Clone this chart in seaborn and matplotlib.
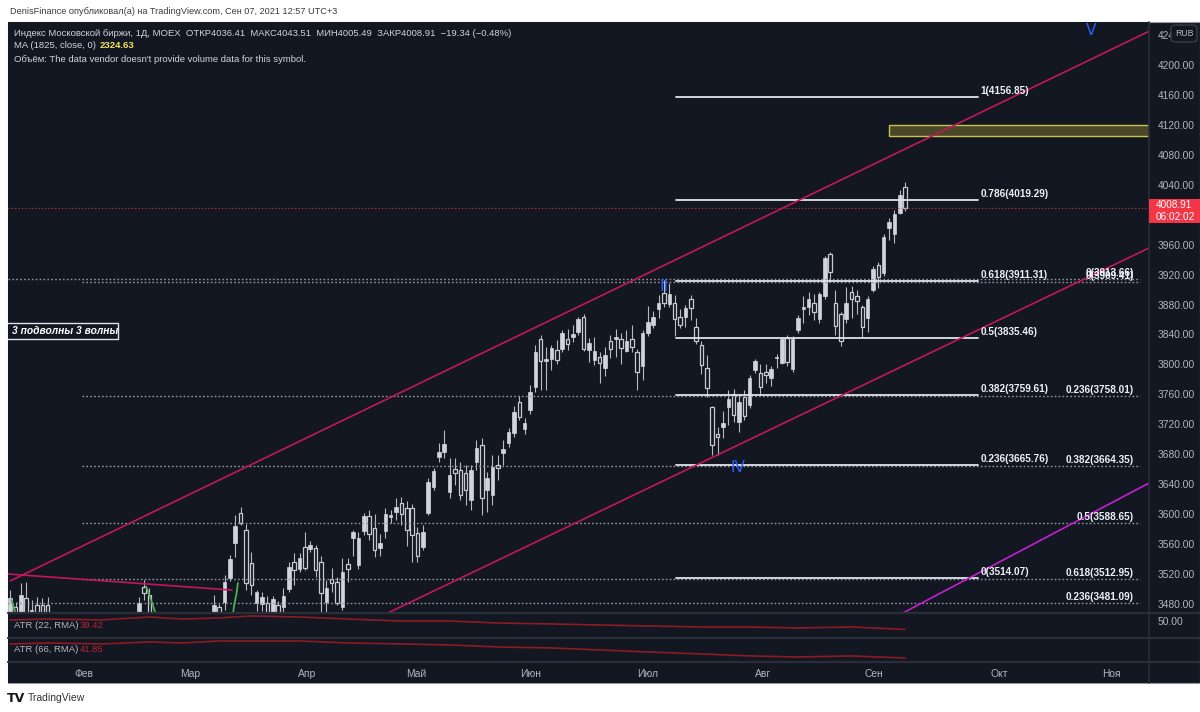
import numpy as np
import pandas as pd
import matplotlib
matplotlib.use("Agg")
import matplotlib.pyplot as plt
import seaborn as sns
from matplotlib.patches import Rectangle, FancyBboxPatch
from matplotlib.lines import Line2D

# ---------------- data ----------------
OPEN = [3469, 3476, 3458, 3488, 3462, 3479, 3479, 3479, 3458, 3440, 3425, 3410, 3420, 3438, 3420, 3390,
        3372, 3395, 3418, 3430, 3445, 3432, 3450, 3442, 3455, 3503, 3492, 3462, 3448, 3430, 3440, 3425,
        3435, 3445, 3438, 3448, 3442, 3452, 3462, 3476, 3483, 3515, 3562, 3602, 3579, 3535, 3481, 3480,
        3481, 3468, 3479, 3476, 3500, 3536, 3527, 3556, 3554, 3555, 3536, 3483, 3513, 3509, 3476, 3533,
        3568, 3532, 3578, 3598, 3582, 3555, 3578, 3596, 3603, 3615, 3608, 3608, 3575, 3556, 3602, 3636,
        3676, 3683, 3630, 3660, 3659, 3655, 3619, 3670, 3692, 3632, 3626, 3666, 3682, 3695, 3708, 3750,
        3714, 3739, 3770, 3834, 3805, 3807, 3819, 3821, 3834, 3837, 3843, 3863, 3819, 3806, 3810, 3795,
        3831, 3834, 3834, 3818, 3834, 3817, 3798, 3842, 3853, 3874, 3895, 3881, 3882, 3863, 3863, 3887,
        3850, 3826, 3795, 3743, 3707, 3716, 3743, 3761, 3723, 3757, 3746, 3793, 3789, 3790, 3782, 3809,
        3802, 3835, 3794, 3846, 3874, 3877, 3882, 3861, 3891, 3948, 3882, 3867, 3861, 3897, 3891, 3877,
        3862, 3899, 3933, 3922, 3982, 3974, 4002, 4036.41]
HIGH = [3499, 3482, 3508, 3509, 3485, 3489, 3488, 3489, 3462, 3452, 3440, 3430, 3445, 3450, 3432, 3410,
        3400, 3425, 3440, 3450, 3458, 3455, 3460, 3458, 3489, 3512, 3501, 3466, 3455, 3445, 3450, 3440,
        3448, 3458, 3452, 3460, 3455, 3462, 3492, 3480, 3519, 3545, 3599, 3610, 3587, 3550, 3499, 3496,
        3490, 3491, 3484, 3501, 3536, 3548, 3548, 3576, 3564, 3559, 3544, 3512, 3528, 3516, 3541, 3541,
        3579, 3576, 3602, 3606, 3600, 3574, 3608, 3606, 3622, 3623, 3618, 3614, 3583, 3586, 3648, 3662,
        3695, 3712, 3675, 3675, 3670, 3666, 3666, 3699, 3702, 3656, 3679, 3679, 3699, 3715, 3745, 3758,
        3728, 3773, 3826, 3839, 3823, 3826, 3833, 3846, 3847, 3853, 3863, 3867, 3835, 3837, 3817, 3823,
        3839, 3847, 3842, 3846, 3853, 3821, 3846, 3878, 3871, 3893, 3913, 3909, 3893, 3874, 3879, 3893,
        3862, 3831, 3813, 3745, 3716, 3738, 3766, 3767, 3759, 3766, 3786, 3807, 3801, 3801, 3798, 3814,
        3837, 3839, 3838, 3866, 3891, 3897, 3894, 3897, 3945, 3950, 3899, 3870, 3903, 3905, 3899, 3879,
        3891, 3932, 3937, 3974, 3996, 4006, 4033, 4043.51]
LOW = [3460, 3455, 3450, 3455, 3455, 3458, 3458, 3455, 3430, 3420, 3400, 3385, 3410, 3415, 3380, 3360,
       3365, 3385, 3405, 3420, 3425, 3428, 3435, 3438, 3448, 3485, 3455, 3440, 3425, 3415, 3420, 3410,
       3425, 3430, 3428, 3435, 3430, 3440, 3455, 3452, 3472, 3510, 3543, 3585, 3499, 3492, 3470, 3470,
       3460, 3460, 3460, 3468, 3496, 3505, 3523, 3525, 3550, 3516, 3468, 3469, 3496, 3479, 3472, 3509,
       3544, 3527, 3572, 3566, 3543, 3544, 3568, 3588, 3592, 3586, 3558, 3536, 3536, 3552, 3599, 3632,
       3670, 3675, 3622, 3639, 3619, 3612, 3606, 3659, 3599, 3603, 3612, 3646, 3666, 3690, 3703, 3726,
       3707, 3734, 3763, 3766, 3766, 3792, 3801, 3817, 3819, 3830, 3839, 3818, 3803, 3799, 3775, 3785,
       3809, 3810, 3801, 3817, 3817, 3766, 3779, 3838, 3849, 3862, 3877, 3877, 3838, 3849, 3850, 3859,
       3827, 3787, 3757, 3679, 3679, 3702, 3719, 3723, 3710, 3726, 3742, 3789, 3761, 3775, 3771, 3795,
       3801, 3798, 3790, 3842, 3855, 3866, 3859, 3855, 3888, 3910, 3839, 3825, 3855, 3862, 3867, 3837,
       3843, 3897, 3902, 3918, 3966, 3962, 4001, 4005.49]
CLOSE = [3488, 3462, 3492, 3462, 3472, 3465, 3466, 3464, 3440, 3425, 3410, 3420, 3438, 3420, 3390, 3372,
         3395, 3418, 3430, 3445, 3432, 3450, 3442, 3455, 3481, 3495, 3462, 3448, 3430, 3440, 3425, 3435,
         3445, 3438, 3448, 3442, 3452, 3458, 3479, 3462, 3509, 3540, 3584, 3588, 3508, 3505, 3496, 3489,
         3468, 3487, 3468, 3491, 3529, 3525, 3541, 3528, 3559, 3525, 3495, 3501, 3508, 3481, 3523, 3527,
         3576, 3568, 3598, 3574, 3552, 3562, 3600, 3599, 3610, 3600, 3579, 3572, 3544, 3576, 3643, 3658,
         3683, 3694, 3652, 3655, 3626, 3632, 3659, 3688, 3622, 3648, 3663, 3662, 3687, 3710, 3737, 3730,
         3722, 3763, 3817, 3805, 3807, 3822, 3806, 3842, 3827, 3841, 3861, 3821, 3829, 3818, 3802, 3813,
         3821, 3837, 3822, 3831, 3823, 3790, 3842, 3857, 3863, 3882, 3882, 3894, 3861, 3853, 3875, 3875,
         3831, 3799, 3769, 3692, 3703, 3722, 3754, 3733, 3750, 3731, 3782, 3805, 3770, 3786, 3794, 3810,
         3834, 3803, 3834, 3862, 3877, 3887, 3870, 3894, 3942, 3924, 3851, 3831, 3882, 3887, 3885, 3850,
         3887, 3928, 3917, 3970, 3990, 4001, 4026, 4008.91]

PRICE_TICKS = list(range(3480, 4241, 40))
MONTH_LABELS = ["Фев", "Мар", "Апр", "Май", "Июн", "Июл", "Авг", "Сен", "Окт", "Ноя"]
MONTH_POS = [13.8, 33.6, 55.4, 75.7, 97.2, 119.0, 140.5, 161.2, 184.5, 205.4]

ATR_IDX = [0, 7, 17, 26, 32, 39, 45, 54, 63, 73, 82, 91, 101, 110, 119, 129, 138, 147, 157, 167]
ATR22 = [51.3, 52.5, 51.3, 55.0, 52.5, 53.8, 56.3, 55.0, 52.5, 50.0, 50.0, 47.5, 46.3, 45.0, 43.8,
         42.5, 42.5, 41.3, 42.5, 39.42]
ATR66 = [55.9, 56.9, 55.9, 57.9, 56.9, 58.9, 58.9, 58.9, 56.9, 55.9, 54.9, 52.9, 51.9, 49.9, 47.9,
         45.9, 43.9, 42.9, 43.9, 41.85]

FIB_A_LEVELS = ["1", "0.786", "0.618", "0.5", "0.382", "0.236", "0"]
FIB_A_PRICES = [4156.85, 4019.29, 3911.31, 3835.46, 3759.61, 3665.76, 3514.07]
FIB_A_SPAN = [124.3, 180.6]
FIB_B_LEVELS = ["0", "0.236", "0.382", "0.5", "0.618"]
FIB_B_PRICES = [3909.41, 3758.01, 3664.35, 3588.65, 3512.95]
FIB_B_SPAN = [13.4, 210.8]
FIB_C_LEVELS = ["0", "0.236"]
FIB_C_PRICES = [3913.66, 3481.09]
FIB_C_SPAN = [-0.4, 210.8]

UPPER_X, UPPER_Y = [0.0, 212.5], [3510.7, 4245.0]
LOWER_X, LOWER_Y = [70.5, 212.5], [3468.0, 3955.5]
LEFT_X, LEFT_Y = [-0.4, 41.4], [3520.0, 3498.5]
MAG_X, MAG_Y = [166.6, 212.5], [3468.0, 3641.5]
ZONE_X, ZONE_Y = [164.0, 214.0], [4105.1, 4119.8]
G1_X, G1_Y = [25.4, 26.0, 26.6, 27.1], [3503.0, 3491.0, 3479.0, 3468.0]
G2_X, G2_Y = [42.5, 42.2, 41.8, 41.6], [3508.0, 3492.0, 3478.6, 3468.0]
G3_X, G3_Y = [0.2, 0.6, 0.9], [3485.3, 3477.3, 3469.3]
WAVES = [("II", 122.0, 3903.4), ("IV", 135.8, 3661.7), ("V", 201.7, 4246.7)]
NOTE_TEXT = "3 подволны 3 волны"
NOTE_X, NOTE_Y = [-1.5, 20.1], [3833.9, 3855.4]
LAST_PRICE = 4008.91

# ---------------- style ----------------
sns.set_style("dark")
plt.rcParams["font.family"] = ["Liberation Sans", "DejaVu Sans"]
BG = "#131722"
TXT = "#b2b5be"
SEP = "#2a2e39"
FS = 7.4

W, H = 1200, 712
fig = plt.figure(figsize=(12, 7.12), dpi=100, facecolor="white")


def fx(px):
    return px / W


def fy(py):
    return 1 - py / H


fig.patches.append(Rectangle((fx(8), fy(683)), fx(1200) - fx(8), fy(22) - fy(683),
                             transform=fig.transFigure, facecolor=BG, edgecolor="#9598a1",
                             lw=0.8, zorder=-10))


def add_ax(top, bottom):
    a = fig.add_axes([fx(8), fy(bottom), fx(1149) - fx(8), fy(top) - fy(bottom)])
    a.set_facecolor(BG)
    for s in a.spines.values():
        s.set_visible(False)
    a.grid(False)
    a.set_xlim(-0.4, 212.5)
    a.set_xticks([])
    return a


ax = add_ax(22, 613)
ax1 = add_ax(613, 638)
ax2 = add_ax(638, 662)
ax3 = add_ax(662, 683)

# ---------------- main price pane ----------------
ax.set_ylim(3467.9, 4257.4)
ax.yaxis.tick_right()
ax.set_yticks(PRICE_TICKS)
ax.set_yticklabels([f"{v:.2f}" for v in PRICE_TICKS])
ax.tick_params(axis="y", length=0, pad=6, labelsize=FS, labelcolor=TXT)

o, h, l, c = map(np.array, (OPEN, HIGH, LOW, CLOSE))
idx = np.arange(len(o))
up = c >= o
body = np.maximum(np.abs(c - o), 1.2)
bot = np.minimum(o, c)
ax.vlines(idx, l, h, color="#b8bac0", lw=0.8, zorder=2)
ax.bar(idx[up], body[up], bottom=bot[up], width=0.66, color="#d1d4dc", edgecolor="#d1d4dc",
       lw=0.5, zorder=3)
ax.bar(idx[~up], body[~up], bottom=bot[~up], width=0.66, color=BG, edgecolor="#c8cad0",
       lw=0.9, zorder=3)

dot = (0, (1.2, 1.6))
for p in FIB_C_PRICES:
    ax.plot(FIB_C_SPAN, [p, p], color="#9598a1", lw=1.0, ls=dot, zorder=4)
for p in FIB_B_PRICES:
    ax.plot(FIB_B_SPAN, [p, p], color="#9598a1", lw=1.0, ls=dot, zorder=4)
for p in FIB_A_PRICES:
    ax.plot(FIB_A_SPAN, [p, p], color="#e0e3eb", lw=1.3, zorder=5)

lab_kw = dict(textcoords="offset pixels", color="#eef0f4", fontsize=7.2, va="center",
              fontweight="bold", zorder=7, annotation_clip=False)
for lv, p in zip(FIB_A_LEVELS, FIB_A_PRICES):
    ax.annotate(f"{lv}({p:.2f})", (FIB_A_SPAN[1] + 0.4, p), xytext=(0, 6), ha="left", **lab_kw)
for lv, p in zip(FIB_B_LEVELS, FIB_B_PRICES):
    ax.annotate(f"{lv}({p:.2f})", (209.7, p), xytext=(0, 6), ha="right", **lab_kw)
for lv, p in zip(FIB_C_LEVELS, FIB_C_PRICES):
    ax.annotate(f"{lv}({p:.2f})", (209.7, p), xytext=(0, 6), ha="right", **lab_kw)

ax.axhline(LAST_PRICE, color="#f23645", lw=0.8, ls=(0, (1, 2)), alpha=0.85, zorder=4)

crim = "#c2185b"
ax.plot(UPPER_X, UPPER_Y, color=crim, lw=1.2, zorder=6)
ax.plot(LOWER_X, LOWER_Y, color=crim, lw=1.2, zorder=6)
ax.plot(LEFT_X, LEFT_Y, color=crim, lw=1.2, zorder=6)
ax.plot(MAG_X, MAG_Y, color="#c41fd1", lw=1.2, zorder=6)
for gx, gy in ((G1_X, G1_Y), (G2_X, G2_Y), (G3_X, G3_Y)):
    ax.plot(gx, gy, color="#4caf50", lw=1.3, zorder=6)

ax.add_patch(Rectangle((ZONE_X[0], ZONE_Y[0]), ZONE_X[1] - ZONE_X[0], ZONE_Y[1] - ZONE_Y[0],
                       facecolor="#4b4828", edgecolor="#c9c150", lw=1.0, zorder=5))

for t, xi, yi in WAVES:
    ax.text(xi, yi, t, color="#2962ff", fontsize=11, ha="center", va="center", zorder=9,
            fontfamily="DejaVu Sans")

ax.add_patch(Rectangle((NOTE_X[0], NOTE_Y[0]), NOTE_X[1] - NOTE_X[0], NOTE_Y[1] - NOTE_Y[0],
                       facecolor=BG, edgecolor="#e0e3eb", lw=1.0, zorder=8))
ax.text(0.4, (NOTE_Y[0] + NOTE_Y[1]) / 2, NOTE_TEXT, color="white", fontsize=7.4,
        fontstyle="italic", fontweight="bold", ha="left", va="center", zorder=9)

# ---------------- ATR panes ----------------
atr = pd.DataFrame({"idx": ATR_IDX, "a22": ATR22, "a66": ATR66})
sns.lineplot(data=atr, x="idx", y="a22", ax=ax1, color="#8e1b23", lw=1.2, legend=False)
sns.lineplot(data=atr, x="idx", y="a66", ax=ax2, color="#8e1b23", lw=1.2, legend=False)
ax1.set_ylim(28.75, 60)
ax2.set_ylim(37.85, 61.85)
for a in (ax1, ax2):
    a.set_xlabel("")
    a.set_ylabel("")
    a.set_xlim(-0.4, 212.5)
    a.set_xticks([])
ax1.yaxis.tick_right()
ax1.set_yticks([50])
ax1.set_yticklabels(["50.00"])
ax1.tick_params(axis="y", length=0, pad=6, labelsize=FS, labelcolor=TXT)
ax2.set_yticks([])

# ---------------- time axis ----------------
ax3.set_ylim(0, 1)
ax3.set_yticks([])
for lab, pos in zip(MONTH_LABELS, MONTH_POS):
    ax3.text(pos, 0.45, lab, color=TXT, fontsize=FS, ha="center", va="center")

# ---------------- separators ----------------
for yy in (613, 638, 662):
    fig.add_artist(Line2D([fx(8), fx(1200)], [fy(yy), fy(yy)], color=SEP, lw=1.6,
                          transform=fig.transFigure))
fig.add_artist(Line2D([fx(1149), fx(1149)], [fy(22), fy(683)], color=SEP, lw=1.2,
                      transform=fig.transFigure))

# ---------------- price-axis badges ----------------
fig.patches.append(Rectangle((fx(1149), fy(223)), fx(1200) - fx(1149), fy(199) - fy(223),
                             transform=fig.transFigure, facecolor="#f23645", edgecolor="none",
                             zorder=5))
fig.text(fx(1156), fy(205.5), f"{LAST_PRICE:.2f}", color="white", fontsize=7.2, va="center",
         ha="left", zorder=6)
fig.text(fx(1156), fy(216.5), "06:02:02", color="white", fontsize=7.2, va="center", ha="left",
         zorder=6)
fig.patches.append(FancyBboxPatch((fx(1171), fy(42)), fx(1197) - fx(1171), fy(25) - fy(42),
                                  boxstyle="round,pad=0,rounding_size=0.004",
                                  transform=fig.transFigure, facecolor=BG, edgecolor="#434651",
                                  lw=0.8, zorder=5))
fig.text(fx(1184), fy(33.5), "RUB", color=TXT, fontsize=6.3, ha="center", va="center", zorder=6)

# ---------------- legends / header ----------------
fig.text(fx(10), fy(11), "DenisFinance опубликовал(а) на TradingView.com, Сен 07, 2021 12:57 UTC+3",
         color="#3a3a3a", fontsize=6.6, va="center", ha="left")
fig.text(fx(14), fy(33), "Индекс Московской биржи, 1Д, MOEX  ОТКР4036.41  МАКС4043.51  "
         "МИН4005.49  ЗАКР4008.91  −19.34 (−0.48%)", color="#d1d4dc", fontsize=6.8,
         va="center", ha="left")
fig.text(fx(14), fy(46), "MA (1825, close, 0)", color="#d1d4dc", fontsize=6.8, va="center", ha="left")
fig.text(fx(100), fy(46), "2324.63", color="#f5e663", fontsize=6.8, fontweight="bold",
         va="center", ha="left")
fig.text(fx(14), fy(59), "Объём: The data vendor doesn't provide volume data for this symbol.",
         color="#d1d4dc", fontsize=6.8, va="center", ha="left")
fig.text(fx(14), fy(626), "ATR (22, RMA)", color=TXT, fontsize=6.8, va="center", ha="left")
fig.text(fx(80), fy(626), f"{ATR22[-1]:.2f}", color="#b22833", fontsize=6.8, va="center", ha="left")
fig.text(fx(14), fy(650), "ATR (66, RMA)", color=TXT, fontsize=6.8, va="center", ha="left")
fig.text(fx(80), fy(650), f"{ATR66[-1]:.2f}", color="#b22833", fontsize=6.8, va="center", ha="left")

fig.text(fx(7), fy(698), "TV", color="#131722", fontsize=9, fontweight="heavy",
         fontfamily="DejaVu Sans", va="center", ha="left")
fig.text(fx(28), fy(698), "TradingView", color="#333333", fontsize=7.5, va="center", ha="left")

fig.savefig("out.png", dpi=100, facecolor="white")
